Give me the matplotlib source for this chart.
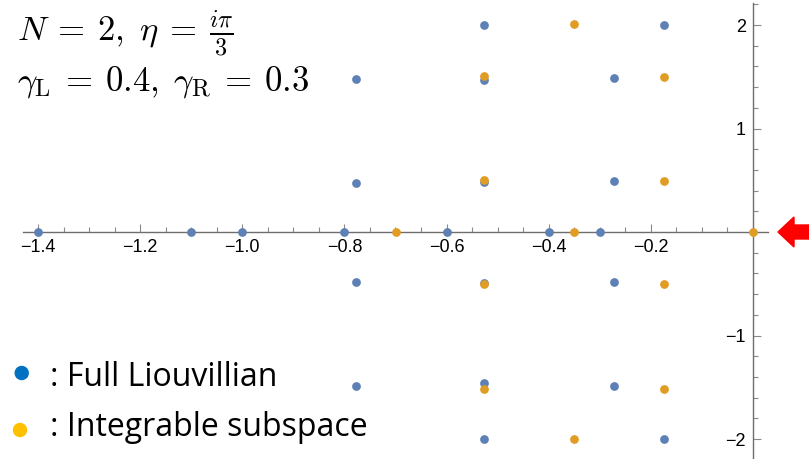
import numpy as np
import matplotlib
matplotlib.use("Agg")
import matplotlib.pyplot as plt
from matplotlib.patches import Polygon, Circle
from matplotlib.transforms import IdentityTransform
from matplotlib.ticker import MultipleLocator, FixedLocator

plt.rcParams['mathtext.fontset'] = 'cm'

full_re = [-1.4, -1.1, -1.0, -0.8, -0.6, -0.4, -0.3,
           -0.777, -0.777, -0.777, -0.777,
           -0.527, -0.527, -0.527, -0.527, -0.527, -0.527,
           -0.272, -0.272, -0.272, -0.272,
           -0.174, -0.174]
full_im = [0, 0, 0, 0, 0, 0, 0,
           1.48, 0.47, -0.48, -1.49,
           2.0, 1.47, 0.48, -0.49, -1.46, -2.0,
           1.485, 0.49, -0.48, -1.49,
           2.0, -2.0]

integ_re = [-0.7, -0.35, 0.0,
            -0.527, -0.527, -0.527, -0.527,
            -0.35, -0.35,
            -0.174, -0.174, -0.174, -0.174]
integ_im = [0, 0, 0,
            1.51, 0.5, -0.5, -1.515,
            2.01, -2.0,
            1.5, 0.49, -0.5, -1.515]

xticks = [-1.4, -1.2, -1.0, -0.8, -0.6, -0.4, -0.2]
yticks = [-2, -1, 1, 2]

W, H = 809, 459
fig = plt.figure(figsize=(W / 100, H / 100), dpi=100)
ax = fig.add_axes([23 / W, 0, 745 / W, 456 / H])

ax.plot(full_re, full_im, 'o', color='#5E81B5', markersize=6.3, markeredgewidth=0, zorder=3)
ax.plot(integ_re, integ_im, 'o', color='#E19C24', markersize=6.3, markeredgewidth=0, zorder=4)

ax.set_xlim(-1.4294, 0.0294)
ax.set_ylim(-2.193, 2.213)

for s in ['top', 'right']:
    ax.spines[s].set_visible(False)
ax.spines['left'].set_position(('data', 0))
ax.spines['bottom'].set_position(('data', 0))
for s in ['left', 'bottom']:
    ax.spines[s].set_color('#6e6e6e')
    ax.spines[s].set_linewidth(1.0)
    ax.spines[s].set_zorder(2)

ax.xaxis.set_major_locator(FixedLocator(xticks))
ax.xaxis.set_minor_locator(MultipleLocator(0.05))
ax.yaxis.set_major_locator(FixedLocator(yticks))
ax.yaxis.set_minor_locator(MultipleLocator(0.2))
ax.tick_params(which='both', direction='in', colors='#8a8a8a', width=0.8,
               labelcolor='black', labelsize=13, labelfontfamily='Liberation Sans')
ax.tick_params(which='major', length=6, pad=5)
ax.tick_params(which='minor', length=3.5)
ax.set_xticklabels([f"\u2212{abs(v):.1f}" for v in xticks])
ax.set_yticklabels([("\u2212" if v < 0 else "") + str(abs(v)) for v in yticks])

# parameter text
fig.text(17 / W, 1 - 42 / H, r'$N\:=\:2,\;\eta\:=\:\frac{i\pi}{3}$', fontsize=25, va='baseline')
fig.text(17 / W, 1 - 90 / H, r'$\gamma_{\mathrm{L}}\:=\:0.4,\;\gamma_{\mathrm{R}}\:=\:0.3$',
         fontsize=25, va='baseline')

# legend
fig.patches.append(Circle((21.7, H - 373), 6.5, transform=IdentityTransform(),
                          color='#0070C0', figure=fig))
fig.patches.append(Circle((20, H - 430), 6.5, transform=IdentityTransform(),
                          color='#FFC000', figure=fig))
fig.text(50 / W, 1 - 385.7 / H, ': Full Liouvillian', fontsize=23, family='Open Sans', va='baseline')
fig.text(50 / W, 1 - 436 / H, ': Integrable subspace', fontsize=23, family='Open Sans', va='baseline')

# red arrow pointing at the origin
arrow = [(778, H - 232), (794, H - 217), (794, H - 225), (809, H - 225),
         (809, H - 239), (794, H - 239), (794, H - 247)]
fig.patches.append(Polygon(arrow, closed=True, transform=IdentityTransform(),
                           color='#FF0000', figure=fig))

fig.savefig('out.png', dpi=100)
